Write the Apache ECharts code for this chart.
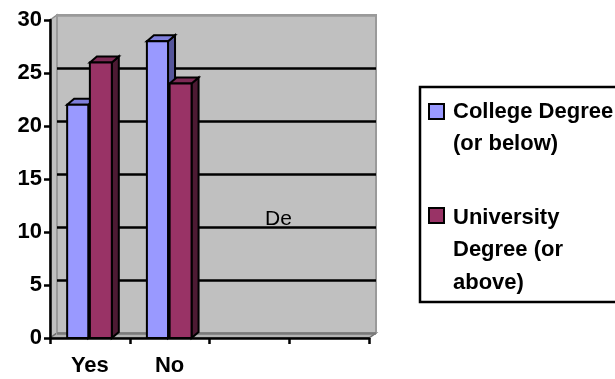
<!DOCTYPE html>
<html>
<head>
<meta charset="utf-8">
<script src="https://cdn.jsdelivr.net/npm/echarts@6/dist/echarts.min.js"></script>
<style>html,body{margin:0;padding:0;background:#fff;}#c{width:615px;height:379px;}</style>
</head>
<body>
<div id="c"></div>
<script>
var categories = ['Yes', 'No', '', ''];
var seriesNames = ['College Degree (or below)', 'University Degree (or above)'];
var legendLines = ['College Degree\n(or below)', 'University\nDegree (or\nabove)'];
var seriesColors = ['#9999FF', '#993366'];
var collegeValues = [22, 28];
var universityValues = [26, 24];
var yTicks = [0, 5, 10, 15, 20, 25, 30];
var strayText = 'De';

var FONT = 'Liberation Sans';
var DX = 7, DY = 6;

function makeRender(offStart, offEnd, front, top, side) {
  return function (params, api) {
    var cat = api.value(0), val = api.value(1);
    var base = api.coord([cat, 0]);
    var tp = api.coord([cat, val]);
    var w = api.size([1, 0])[0];
    var x0 = base[0] + offStart * w, x1 = base[0] + offEnd * w;
    var y0 = base[1], y1 = tp[1];
    var st = {stroke: '#000', lineWidth: 2, lineJoin: 'miter'};
    return {
      type: 'group',
      children: [
        {type: 'polygon', shape: {points: [[x1, y1], [x1 + DX, y1 - DY], [x1 + DX, y0 - DY], [x1, y0]]},
          style: Object.assign({fill: side}, st)},
        {type: 'polygon', shape: {points: [[x0, y1], [x0 + DX, y1 - DY], [x1 + DX, y1 - DY], [x1, y1]]},
          style: Object.assign({fill: top}, st)},
        {type: 'rect', shape: {x: x0, y: y1, width: x1 - x0, height: y0 - y1},
          style: Object.assign({fill: front}, st)}
      ]
    };
  };
}

function toData(arr) { return arr.map(function (v, i) { return [i, v]; }); }

var legendGraphics = [];
var legendIconTops = [104, 208];
var legendTextShift = [0, 2];
seriesNames.forEach(function (name, i) {
  legendGraphics.push({type: 'rect', z: 100, shape: {x: 429, y: legendIconTops[i], width: 15, height: 15},
    style: {fill: seriesColors[i], stroke: '#000', lineWidth: 2}});
  legendGraphics.push({type: 'text', z: 100, x: 453, y: legendIconTops[i] + 7.5 - 16 + legendTextShift[i],
    style: {text: legendLines[i], font: 'bold 22px "' + FONT + '"', lineHeight: 32.5,
      fill: '#000', align: 'left', verticalAlign: 'top'}});
});

var chart = echarts.init(document.getElementById('c'), null, {renderer: 'canvas'});
var option = {
  backgroundColor: '#ffffff',
  animation: false,
  title: {
    text: strayText, left: 265, top: 209, padding: 0,
    textStyle: {fontFamily: FONT, fontSize: 21, fontWeight: 'normal', color: '#000'}
  },
  graphic: [
    {type: 'rect', z: 100, shape: {x: 420, y: 87, width: 230, height: 215},
      style: {fill: 'none', stroke: '#000', lineWidth: 2.5}},
    {type: 'polygon', z: -1, shape: {points: [[50, 20], [57, 15], [57, 333], [50, 338]]},
      style: {fill: '#C0C0C0', stroke: '#8c8c8c', lineWidth: 1.5}},
    {type: 'polygon', z: -1, shape: {points: [[50, 338], [57, 333], [376, 333], [369, 338]]},
      style: {fill: '#b4b4b4', stroke: '#6e6e6e', lineWidth: 1.5}}
  ].concat(legendGraphics),
  grid: [
    {left: 50, right: 246, top: 20, bottom: 41, show: false},
    {left: 57, right: 239, top: 15, bottom: 46, show: true, backgroundColor: '#C0C0C0',
      borderColor: '#9a9a9a', borderWidth: 2}
  ],
  xAxis: [
    {type: 'category', gridIndex: 0, data: categories, boundaryGap: true,
      axisLine: {show: true, lineStyle: {color: '#000', width: 2.5}},
      axisTick: {show: true, length: 6, lineStyle: {color: '#000', width: 2.5}},
      axisLabel: {fontFamily: FONT, fontSize: 22, fontWeight: 'bold', color: '#000', margin: 17},
      splitLine: {show: false}},
    {type: 'value', gridIndex: 1, show: false, min: 0, max: 1}
  ],
  yAxis: [
    {type: 'value', gridIndex: 0, min: yTicks[0], max: yTicks[yTicks.length - 1], interval: 5,
      axisLine: {show: true, lineStyle: {color: '#000', width: 2.5}},
      axisTick: {show: true, length: 6, lineStyle: {color: '#000', width: 2.5}},
      axisLabel: {fontFamily: FONT, fontSize: 22, fontWeight: 'bold', color: '#000', margin: 8},
      splitLine: {show: false}},
    {type: 'value', gridIndex: 1, min: yTicks[0], max: yTicks[yTicks.length - 1], interval: 5,
      axisLine: {show: false}, axisTick: {show: false}, axisLabel: {show: false},
      splitLine: {show: true, lineStyle: {color: ['#7a7a7a', '#000', '#000', '#000', '#000', '#000', '#9a9a9a'], width: 2.5}}}
  ],
  series: [
    {name: seriesNames[0], type: 'custom', xAxisIndex: 0, yAxisIndex: 0, z: 5,
      itemStyle: {color: seriesColors[0]},
      encode: {x: 0, y: 1},
      renderItem: makeRender(-0.285, -0.02, seriesColors[0], '#7f7fdc', '#55559a'),
      data: toData(collegeValues)},
    {name: seriesNames[1], type: 'custom', xAxisIndex: 0, yAxisIndex: 0, z: 6,
      itemStyle: {color: seriesColors[1]},
      encode: {x: 0, y: 1},
      renderItem: makeRender(0.0, 0.275, seriesColors[1], '#7d2a55', '#4d1a33'),
      data: toData(universityValues)}
  ]
};
chart.setOption(option);
</script>
</body>
</html>
